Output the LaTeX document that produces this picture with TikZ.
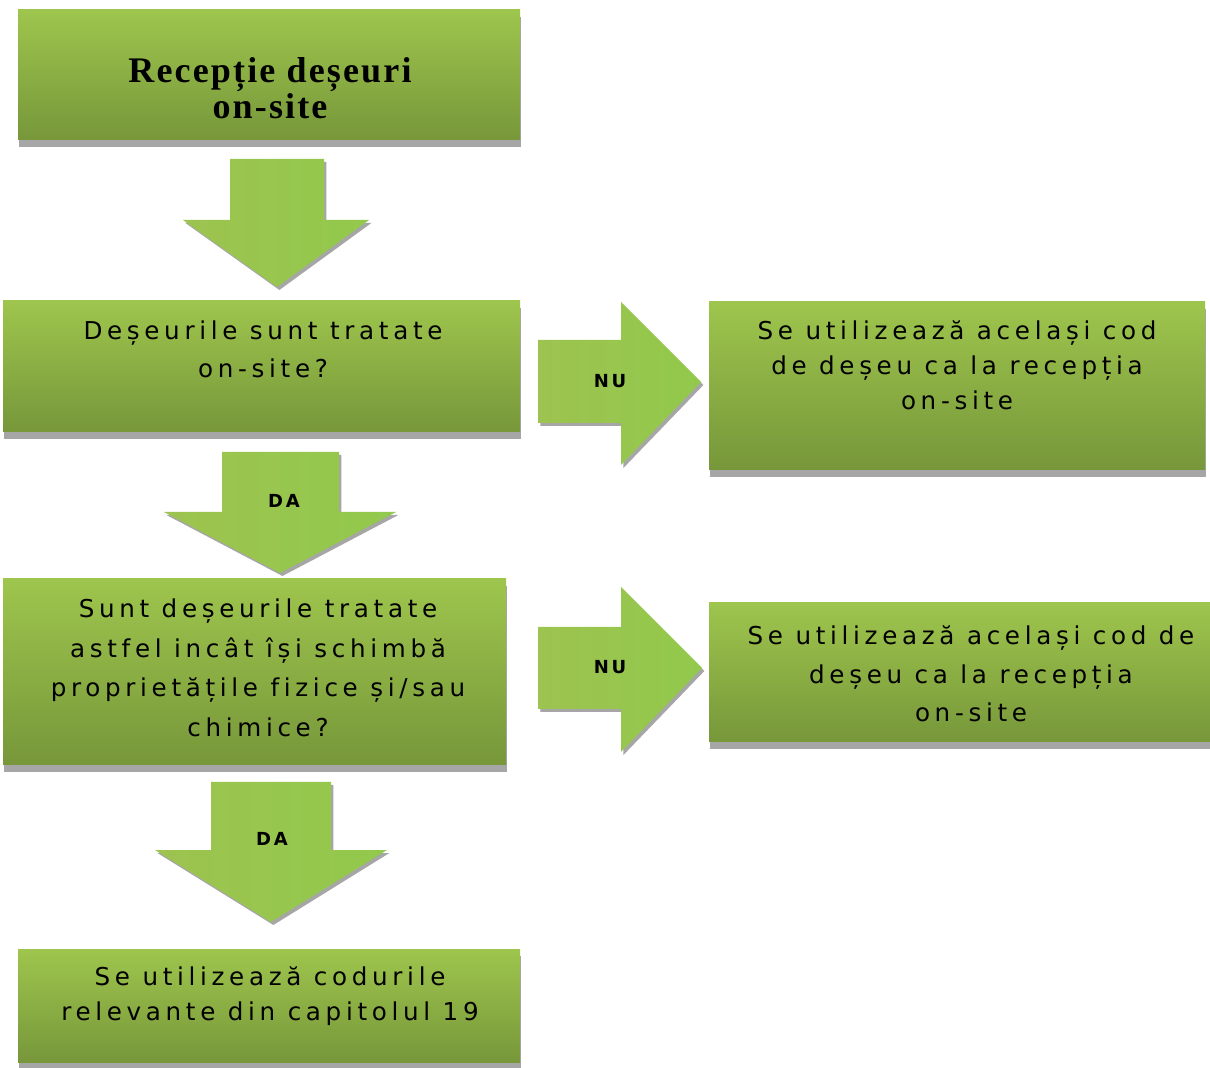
\documentclass[tikz,border=0pt]{standalone}
\usepackage{fontspec}
\usetikzlibrary{shadows}
\newfontfamily\bodyfont[LetterSpace=19,Ligatures=NoCommon]{DejaVu Sans}
\newfontfamily\labfont[LetterSpace=15]{DejaVu Sans}
\newfontfamily\titlefont[LetterSpace=6]{Liberation Serif}
\definecolor{gtop}{RGB}{158,197,77}
\definecolor{gbot}{RGB}{119,151,58}
\definecolor{arL}{RGB}{157,195,80}
\definecolor{arR}{RGB}{146,201,76}
\definecolor{shgray}{RGB}{166,166,166}
\tikzset{
  box/.style={rectangle, inner sep=0pt, draw=none, top color=gtop, bottom color=gbot,
    general shadow={fill=shgray, shadow xshift=0.5pt, shadow yshift=-3.5pt}},
  boxtext/.style={align=center, inner sep=0pt, font=\bodyfont\fontsize{12.3}{19}\selectfont},
  blockarrow/.style={draw=none, left color=arL, right color=arR,
    general shadow={fill=shgray, shadow xshift=1.2pt, shadow yshift=-1.5pt}},
  arrowlabel/.style={inner sep=0pt, font=\labfont\bfseries\fontsize{9}{11}\selectfont}
}
\begin{document}
\begin{tikzpicture}[x=0.5pt,y=-0.5pt]
\useasboundingbox (0,0) rectangle (1210,1068);
\fill[white] (0,0) rectangle (1210,1068);

% boxes
\node[box, minimum width=251pt, minimum height=65pt] (b1) at (269,75) {};
\node[box, minimum width=258.5pt, minimum height=65.5pt] (b2) at (261.5,366.5) {};
\node[box, minimum width=248pt, minimum height=84pt] (b3) at (957,386) {};
\node[box, minimum width=251.5pt, minimum height=93pt] (b4) at (254.5,672) {};
\node[box, minimum width=250.5pt, minimum height=69.5pt] (b5) at (959.5,672.5) {};
\node[box, minimum width=251pt, minimum height=56.5pt] (b6) at (269,1005.5) {};

% texts
\node[align=center, inner sep=0pt, font=\titlefont\bfseries\fontsize{18}{16.5}\selectfont] (t1) at (270,88) {Recepție deșeuri\\on-site};
\node[boxtext] (t2) at (263,349) {Deșeurile sunt tratate\\on-site?};
\node[boxtext, font=\bodyfont\fontsize{12.3}{17.5}\selectfont] (t3) at (957,365) {Se utilizează același cod\\de deșeu ca la recepția\\on-site};
\node[boxtext, font=\bodyfont\fontsize{12.3}{19.75}\selectfont] (t4) at (258,668) {Sunt deșeurile tratate\\astfel incât își schimbă\\proprietățile fizice și/sau\\chimice?};
\node[boxtext, font=\bodyfont\fontsize{12.3}{19.25}\selectfont] (t5) at (971,674) {Se utilizează același cod de\\deșeu ca la recepția\\on-site};
\node[boxtext, font=\bodyfont\fontsize{12.3}{17.5}\selectfont] (t6) at (270,996) {Se utilizează codurile\\relevante din capitolul 19};

% block arrows
\path[blockarrow] (230,159) -- (324,159) -- (324,220) -- (369,220) -- (277,287) -- (183,220) -- (230,220) -- cycle;
\path[blockarrow] (222,452) -- (339,452) -- (339,512) -- (396,512) -- (280,573) -- (164,512) -- (222,512) -- cycle;
\path[blockarrow] (211,782) -- (331,782) -- (331,850) -- (387,850) -- (271,922) -- (155,850) -- (211,850) -- cycle;
\path[blockarrow] (538,340) -- (621,340) -- (621,302) -- (701,382) -- (621,465) -- (621,423) -- (538,423) -- cycle;
\path[blockarrow] (538,627) -- (621,627) -- (621,587) -- (702,668) -- (621,752) -- (621,709) -- (538,709) -- cycle;

% arrow labels
\node[arrowlabel] (da1) at (284,501) {DA};
\node[arrowlabel] (da2) at (272,839) {DA};
\node[arrowlabel] (nu1) at (610,381) {NU};
\node[arrowlabel] (nu2) at (610,667) {NU};
\end{tikzpicture}
\end{document}
